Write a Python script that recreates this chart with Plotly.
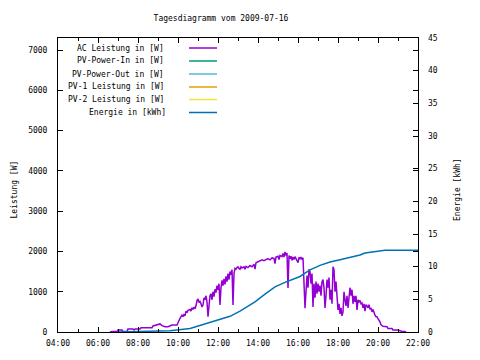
import plotly.graph_objects as go

DAY = "2009-07-16 "

ac_time = ["06:36","06:42","06:57","07:00","07:12","07:15","07:27","07:30","07:45","07:48","07:51","08:06","08:09","08:42","08:45","08:54","09:00","09:06","09:12","09:21","09:30","09:36","09:42","09:57",
 "10:00","10:06","10:12","10:15","10:18","10:21","10:24","10:27","10:30","10:36","10:39","10:42","10:45","10:48","10:51","10:54","10:57",
 "11:00","11:03","11:06","11:09","11:12","11:15","11:18","11:21","11:24","11:27","11:30","11:33","11:36","11:39","11:42","11:45","11:48","11:51","11:54","11:57",
 "12:00","12:03","12:06","12:09","12:12","12:15","12:18","12:21","12:24","12:27","12:30","12:33","12:36","12:39","12:42","12:45","12:48","12:51","12:54","12:57",
 "13:00","13:03","13:06","13:09","13:12","13:18","13:21","13:24","13:30","13:36","13:42","13:48","13:51","13:54",
 "14:00","14:06","14:12","14:18","14:24","14:30","14:36","14:42","14:48","14:51","14:54",
 "15:00","15:03","15:06","15:12","15:15","15:18","15:21","15:24","15:27","15:30","15:33","15:36","15:39","15:42","15:45","15:48","15:51","15:54",
 "16:00","16:03","16:06","16:09","16:12","16:15","16:18","16:21","16:24","16:27","16:30","16:33","16:36","16:39","16:42","16:45","16:48","16:51","16:54","16:57",
 "17:00","17:03","17:06","17:09","17:12","17:15","17:18","17:21","17:24","17:27","17:30","17:33","17:36","17:39","17:42","17:45","17:48","17:51","17:54","17:57",
 "18:00","18:03","18:06","18:09","18:12","18:15","18:18","18:21","18:24","18:27","18:30","18:33","18:36","18:39","18:42","18:45","18:48","18:51","18:54","18:57",
 "19:00","19:03","19:06","19:09","19:12","19:15","19:18","19:21","19:24","19:27","19:30","19:33","19:36","19:39","19:42","19:45","19:48","19:51","19:54","19:57",
 "20:00","20:03","20:06","20:09","20:15","20:27","20:30","20:42","20:45","21:00","21:06","21:12","21:21","21:24"]
ac_power = [0,10,10,50,50,10,10,75,75,50,75,75,107,107,150,170,200,200,157,130,130,150,175,175,
 240,340,420,380,430,400,520,480,540,560,520,600,560,620,580,650,780,
 820,730,760,700,620,670,850,800,900,750,380,650,900,950,800,1000,880,1060,980,1150,
 1050,1200,670,1100,1280,1150,1320,1180,1380,1250,1450,1300,1500,1420,1550,670,1450,1580,1560,1600,
 1620,1580,1560,1620,1590,1620,1560,1630,1600,1650,1620,1680,1560,1720,
 1740,1760,1790,1770,1800,1820,1790,1840,1830,1700,1860,
 1880,1800,1900,1870,1950,1860,1990,1900,1960,1090,1900,1820,1880,1780,1860,1800,1870,1820,
 1720,1850,1820,1860,1800,1840,1160,590,1000,1400,1100,1560,1500,1200,1450,620,1200,850,1250,950,
 1200,1000,1150,900,1250,1300,1100,600,900,1300,1100,1350,800,1050,700,1620,1550,1000,1250,800,
 550,700,450,600,400,500,1000,800,650,900,600,850,1100,900,1050,700,900,750,900,550,
 800,750,780,700,720,600,700,520,680,650,600,680,560,600,500,560,450,420,380,380,
 330,300,250,180,140,130,90,90,50,50,30,15,10,0]

en_time = ["07:00","08:57","09:36","10:36","11:36","12:36","13:06","13:51","14:21","14:51","15:21","15:51","16:06","16:21","16:36","17:06","17:36","18:06","18:36","19:06","19:21","19:51","20:21","22:00"]
en_kwh = [0,0.1,0.2,0.55,1.5,2.4,3.2,4.6,5.8,6.9,7.6,8.2,8.5,9.0,9.5,10.2,10.7,11.05,11.4,11.8,12.1,12.3,12.5,12.5]

series_names = ["AC Leistung in [W]","PV-Power-In in [W]","PV-Power-Out in [W]","PV-1 Leistung in [W]","PV-2 Leistung in [W]","Energie in [kWh]"]
series_colors = ["#9400D3","#009E73","#56B4E9","#E69F00","#F0E442","#0072B2"]

FONT = "DejaVu Sans Mono"

fig = go.Figure()
fig.add_trace(go.Scatter(x=[DAY+t for t in ac_time], y=ac_power, mode="lines",
                         line=dict(color=series_colors[0], width=1.5), name=series_names[0], showlegend=False))
for i in range(1, 5):
    fig.add_trace(go.Scatter(x=[], y=[], mode="lines", line=dict(color=series_colors[i], width=1.5),
                             name=series_names[i], showlegend=False))
fig.add_trace(go.Scatter(x=[DAY+t for t in en_time], y=en_kwh, mode="lines", yaxis="y2",
                         line=dict(color=series_colors[5], width=1.5), name=series_names[5], showlegend=False))

# page body has an 8px margin; figure is offset by that amount
OFF = 8
W, H = 480 - OFF, 360 - OFF
L, R, T, B = 58 - OFF, 418 - OFF, 38 - OFF, 332 - OFF
def px(x): return (x - OFF - L) / (R - L)
def py(y): return (B - (y - OFF)) / (B - T)

ann = []
shapes = []
rows = [48, 61, 74, 87, 99.5, 112.5]
for i, (n, c) in enumerate(zip(series_names, series_colors)):
    ann.append(dict(text=n, x=px(166 if i < 5 else 168), y=py(rows[i]), xref="paper", yref="paper",
                    xanchor="right", yanchor="middle", showarrow=False, font=dict(family=FONT, size=8, color="black")))
    shapes.append(dict(type="line", xref="paper", yref="paper", x0=px(189), x1=px(217), y0=py(rows[i]), y1=py(rows[i]),
                       line=dict(color=c, width=1.5)))
ann.append(dict(text="Leistung [W]", x=px(8), y=py(190), xref="paper", yref="paper", textangle=-90,
                xanchor="left", yanchor="middle", borderpad=0, showarrow=False, font=dict(family=FONT, size=8, color="black")))
ann.append(dict(text="Energie [kWh]", x=px(457), y=py(190), xref="paper", yref="paper", textangle=-90,
                xanchor="center", yanchor="middle", showarrow=False, font=dict(family=FONT, size=8, color="black")))

fig.update_layout(
    width=W, height=H, margin=dict(l=L, r=W-R, t=T, b=H-B),
    paper_bgcolor="white", plot_bgcolor="white",
    font=dict(family=FONT, size=8, color="black"),
    title=dict(text="Tagesdiagramm vom 2009-07-16", x=px(221), xref="paper", xanchor="center",
               y=1-(18-OFF)/H, yanchor="middle",
               font=dict(family=FONT, size=8, color="black")),
    xaxis=dict(type="date", range=[DAY+"04:00", DAY+"22:00"], dtick=7200000, tick0=DAY+"04:00",
               tickformat="%H:%M", ticks="inside", ticklen=5, tickcolor="black", showline=True, linecolor="black",
               linewidth=1, mirror="ticks", showgrid=False, zeroline=False, ticklabelstandoff=3,
               minor=dict(dtick=3600000, ticks="inside", ticklen=3, tickcolor="black", showgrid=False)),
    yaxis=dict(range=[0, 7300], dtick=1000, ticks="inside", ticklen=5, tickcolor="black", showline=True,
               linecolor="black", linewidth=1, mirror="ticks", showgrid=False, zeroline=False,
               ticklabelstandoff=8),
    yaxis2=dict(range=[0, 45], dtick=5, overlaying="y", side="right", ticks="inside", ticklen=5,
                tickcolor="black", showline=False, showgrid=False, zeroline=False, ticklabelstandoff=9),
    annotations=ann, shapes=shapes, showlegend=False,
)
fig.write_html("out.html")
